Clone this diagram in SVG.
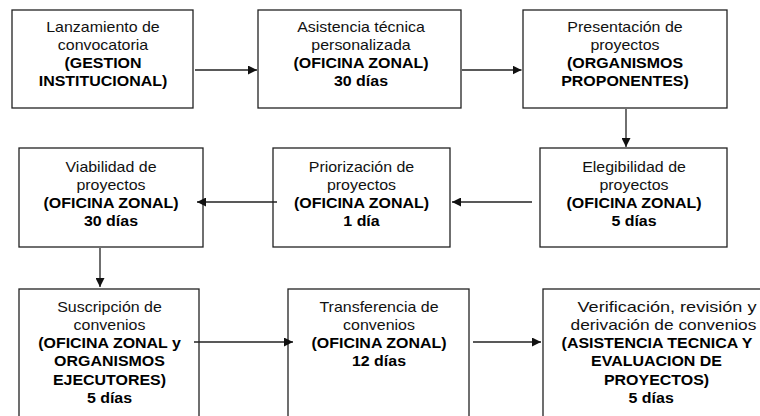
<svg xmlns="http://www.w3.org/2000/svg" width="760" height="416" viewBox="0 0 760 416">
<style>
.box{fill:#fff;stroke:#222;stroke-width:1.3}
.t{font-family:"Liberation Sans",Arial,sans-serif;font-size:14px;fill:#111;text-anchor:middle}
.b{font-weight:bold;fill:#000}
.c{stroke:#222;stroke-width:1.3;fill:none;marker-end:url(#ah)}
</style>
<defs>
<marker id="ah" markerUnits="userSpaceOnUse" markerWidth="10" markerHeight="9" refX="9" refY="4.5" orient="auto">
<path d="M0,0 L9,4.5 L0,9 z" fill="#111"/>
</marker>
</defs>
<rect width="760" height="416" fill="#fff"/>

<g id="n1">
<rect class="box" x="12" y="10" width="181" height="98"/>
<text class="t" transform="translate(103,0) scale(1.14,1)"><tspan x="0" y="32.5">Lanzamiento de</tspan><tspan x="0" y="50.5">convocatoria</tspan><tspan class="b" x="0" y="68.5">(GESTION</tspan><tspan class="b" x="0" y="86.5">INSTITUCIONAL)</tspan></text>
</g>
<g id="n2">
<rect class="box" x="258" y="10" width="203" height="98"/>
<text class="t" transform="translate(361,0) scale(1.14,1)"><tspan x="0" y="32.5">Asistencia técnica</tspan><tspan x="0" y="50.5">personalizada</tspan><tspan class="b" x="0" y="68.5">(OFICINA ZONAL)</tspan><tspan class="b" x="0" y="86.5">30 días</tspan></text>
</g>
<g id="n3">
<rect class="box" x="523" y="10" width="204" height="98"/>
<text class="t" transform="translate(625,0) scale(1.14,1)"><tspan x="0" y="32.5">Presentación de</tspan><tspan x="0" y="50.5">proyectos</tspan><tspan class="b" x="0" y="68.5">(ORGANISMOS</tspan><tspan class="b" x="0" y="86.5">PROPONENTES)</tspan></text>
</g>
<g id="n4">
<rect class="box" x="540" y="148" width="187" height="99"/>
<text class="t" transform="translate(634,0) scale(1.14,1)"><tspan x="0" y="172">Elegibilidad de</tspan><tspan x="0" y="190">proyectos</tspan><tspan class="b" x="0" y="208">(OFICINA ZONAL)</tspan><tspan class="b" x="0" y="226">5 días</tspan></text>
</g>
<g id="n5">
<rect class="box" x="273" y="148" width="177" height="99"/>
<text class="t" transform="translate(361.5,0) scale(1.14,1)"><tspan x="0" y="172">Priorización de</tspan><tspan x="0" y="190">proyectos</tspan><tspan class="b" x="0" y="208">(OFICINA ZONAL)</tspan><tspan class="b" x="0" y="226">1 día</tspan></text>
</g>
<g id="n6">
<rect class="box" x="19" y="148" width="184" height="99"/>
<text class="t" transform="translate(111,0) scale(1.14,1)"><tspan x="0" y="172">Viabilidad de</tspan><tspan x="0" y="190">proyectos</tspan><tspan class="b" x="0" y="208">(OFICINA ZONAL)</tspan><tspan class="b" x="0" y="226">30 días</tspan></text>
</g>
<g id="n7">
<rect class="box" x="19" y="289" width="180" height="140"/>
<text class="t" transform="translate(109.5,0) scale(1.14,1)"><tspan x="0" y="312">Suscripción de</tspan><tspan x="0" y="330">convenios</tspan><tspan class="b" x="0" y="348">(OFICINA ZONAL y</tspan><tspan class="b" x="0" y="366.5">ORGANISMOS</tspan><tspan class="b" x="0" y="385">EJECUTORES)</tspan><tspan class="b" x="0" y="403">5 días</tspan></text>
</g>
<g id="n8">
<rect class="box" x="288" y="289" width="181" height="140"/>
<text class="t" transform="translate(379,0) scale(1.14,1)"><tspan x="0" y="312">Transferencia de</tspan><tspan x="0" y="330">convenios</tspan><tspan class="b" x="0" y="348">(OFICINA ZONAL)</tspan><tspan class="b" x="0" y="366.5">12 días</tspan></text>
</g>
<g id="n9">
<rect class="box" x="543" y="289" width="250" height="140"/>
<text class="t" transform="translate(667,0) scale(1.14,1)" x="0" y="312" textLength="157" lengthAdjust="spacingAndGlyphs">Verificación, revisión y</text>
<text class="t" transform="translate(663.5,0) scale(1.14,1)" x="0" y="330" textLength="163" lengthAdjust="spacingAndGlyphs">derivación de convenios</text>
<text class="t" transform="translate(658,0) scale(1.14,1)"><tspan class="b" x="-0.9" y="348">(ASISTENCIA TECNICA Y</tspan><tspan class="b" x="-1.3" y="366.5">EVALUACION DE</tspan><tspan class="b" x="-1.3" y="385">PROYECTOS)</tspan><tspan class="b" x="-6" y="403">5 días</tspan></text>
</g>

<g id="connectors">
<path class="c" d="M195,70 H257"/>
<path class="c" d="M462,70 H521.5"/>
<path class="c" d="M626,109 V147"/>
<path class="c" d="M532,202 H452"/>
<path class="c" d="M277,202 H197"/>
<path class="c" d="M100,248 V287"/>
<path class="c" d="M194,342 H293"/>
<path class="c" d="M473,342 H541"/>
</g>
</svg>
